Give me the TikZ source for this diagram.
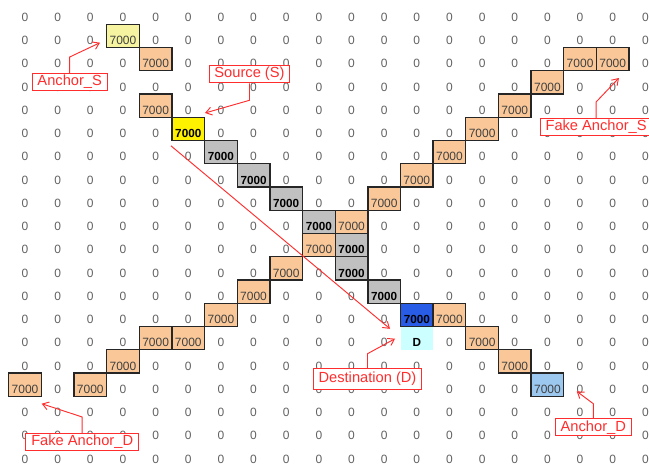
\documentclass[tikz,border=0pt]{standalone}
\usepackage{fontspec}
\setmainfont{Liberation Sans}
\usepackage{xcolor}
\usetikzlibrary{arrows.meta,calc}

\definecolor{cellorange}{RGB}{250,200,152}
\definecolor{cellpale}{RGB}{246,244,160}
\definecolor{cellgray}{RGB}{192,192,192}
\definecolor{cellblue}{RGB}{40,92,230}
\definecolor{cellsky}{RGB}{156,200,240}
\definecolor{cellcyan}{RGB}{204,255,255}
\definecolor{notered}{RGB}{255,45,45}

\begin{document}
\begin{tikzpicture}[x=24.49pt,y=17.44pt,>={Straight Barb[length=4.5pt,width=6pt]},
  cell/.style={draw=black!85,line width=1pt,inner sep=0pt,minimum width=24.49pt,
    minimum height=17.44pt,text height=15.2pt,text depth=2.24pt,
    font=\fontsize{9}{10}\selectfont,text=black!75},
  zero/.style={cell,draw=none,text=black!62},
  orangecell/.style={fill=cellorange},
  anchscell/.style={fill=cellpale},
  anchdcell/.style={fill=cellsky},
  srccell/.style={fill=yellow,text=black,font=\fontsize{8.8}{9}\selectfont\bfseries},
  graycell/.style={fill=cellgray,text=black,font=\fontsize{8.8}{9}\selectfont\bfseries},
  dstcell/.style={fill=cellblue,text=black,font=\fontsize{8.8}{9}\selectfont\bfseries},
  dcell/.style={fill=cellcyan,draw=none,text=black,font=\fontsize{8.8}{9}\selectfont\bfseries},
  lbl/.style={draw=notered,fill=white,text=notered,line width=0.75pt,inner xsep=4pt,
    inner ysep=1pt,minimum height=13pt,font=\fontsize{11}{12}\selectfont},
  lblarrow/.style={->,draw=notered,line width=0.7pt}]
  \useasboundingbox (-0.2665,-20) rectangle (19.611,0.043);
  % coloured cells of the grid
  \foreach \cx/\ry/\kind/\val in {3/1/anchscell/7000,4/2/orangecell/7000,4/4/orangecell/7000,
      5/5/srccell/7000,6/6/graycell/7000,7/7/graycell/7000,8/8/graycell/7000,
      9/9/graycell/7000,10/10/graycell/7000,10/11/graycell/7000,11/12/graycell/7000,
      12/13/dstcell/7000,12/14/dcell/D,
      17/2/orangecell/7000,18/2/orangecell/7000,16/3/orangecell/7000,15/4/orangecell/7000,
      14/5/orangecell/7000,13/6/orangecell/7000,12/7/orangecell/7000,11/8/orangecell/7000,
      10/9/orangecell/7000,9/10/orangecell/7000,8/11/orangecell/7000,7/12/orangecell/7000,
      6/13/orangecell/7000,5/14/orangecell/7000,4/14/orangecell/7000,3/15/orangecell/7000,
      2/16/orangecell/7000,0/16/orangecell/7000,
      13/13/orangecell/7000,14/14/orangecell/7000,15/15/orangecell/7000,16/16/anchdcell/7000}
    {\node[cell,\kind] (c\cx-\ry) at (\cx+0.5,-\ry-0.5) {\val};
     \expandafter\gdef\csname used\cx-\ry\endcsname{}}
  % all the other cells hold 0
  \foreach \cx in {0,...,19}
    \foreach \ry in {0,...,19}
      {\ifcsname used\cx-\ry\endcsname\else
         \node[zero] (z\cx-\ry) at (\cx+0.5,-\ry-0.5) {0};
       \fi}
  % path from source to destination
  \coordinate (pathstart) at ($(c5-5.south west)+(-0.01,-0.2)$);
  \coordinate (pathend) at ($(c12-13.south west)+(-0.3,-0.07)$);
  \draw[lblarrow] (pathstart) -- (pathend);
  % callouts
  \node[lbl] (lblAS) at (1.868,-3.484) {Anchor\_S};
  \node[lbl] (lblS) at (7.375,-3.148) {Source (S)};
  \node[lbl] (lblFAS) at (17.99,-5.419) {Fake Anchor\_S};
  \node[lbl,minimum height=15.5pt] (lblD) at (10.989,-16.245) {Destination (D)};
  \node[lbl] (lblFAD) at (2.251,-18.968) {Fake Anchor\_D};
  \node[lbl] (lblAD) at (17.905,-18.335) {Anchor\_D};
  \coordinate (tipAS) at (2.796,-1.794);
  \coordinate (tipS) at (6.012,-4.817);
  \coordinate (tipFAS) at (18.69,-3.312);
  \coordinate (tipD) at (11.832,-14.525);
  \coordinate (tipFAD) at (1.011,-17.32);
  \coordinate (tipAD) at (17.397,-16.787);
  \draw[lblarrow] (lblAS.north) -- (lblAS.north |- 0,-2.409) -- (tipAS);
  \draw[lblarrow] (lblS.south) -- (lblS.south |- 0,-4.271) -- (tipS);
  \draw[lblarrow] (lblFAS.north) -- (lblFAS.north |- 0,-4.344) -- (tipFAS);
  \draw[lblarrow] (lblD.north) -- (lblD.north |- 0,-15.17) -- (tipD);
  \draw[lblarrow] (lblFAD.north) -- (lblFAD.north |- 0,-17.892) -- (tipFAD);
  \draw[lblarrow] (lblAD.north) -- (lblAD.north |- 0,-17.32) -- (tipAD);
\end{tikzpicture}
\end{document}
